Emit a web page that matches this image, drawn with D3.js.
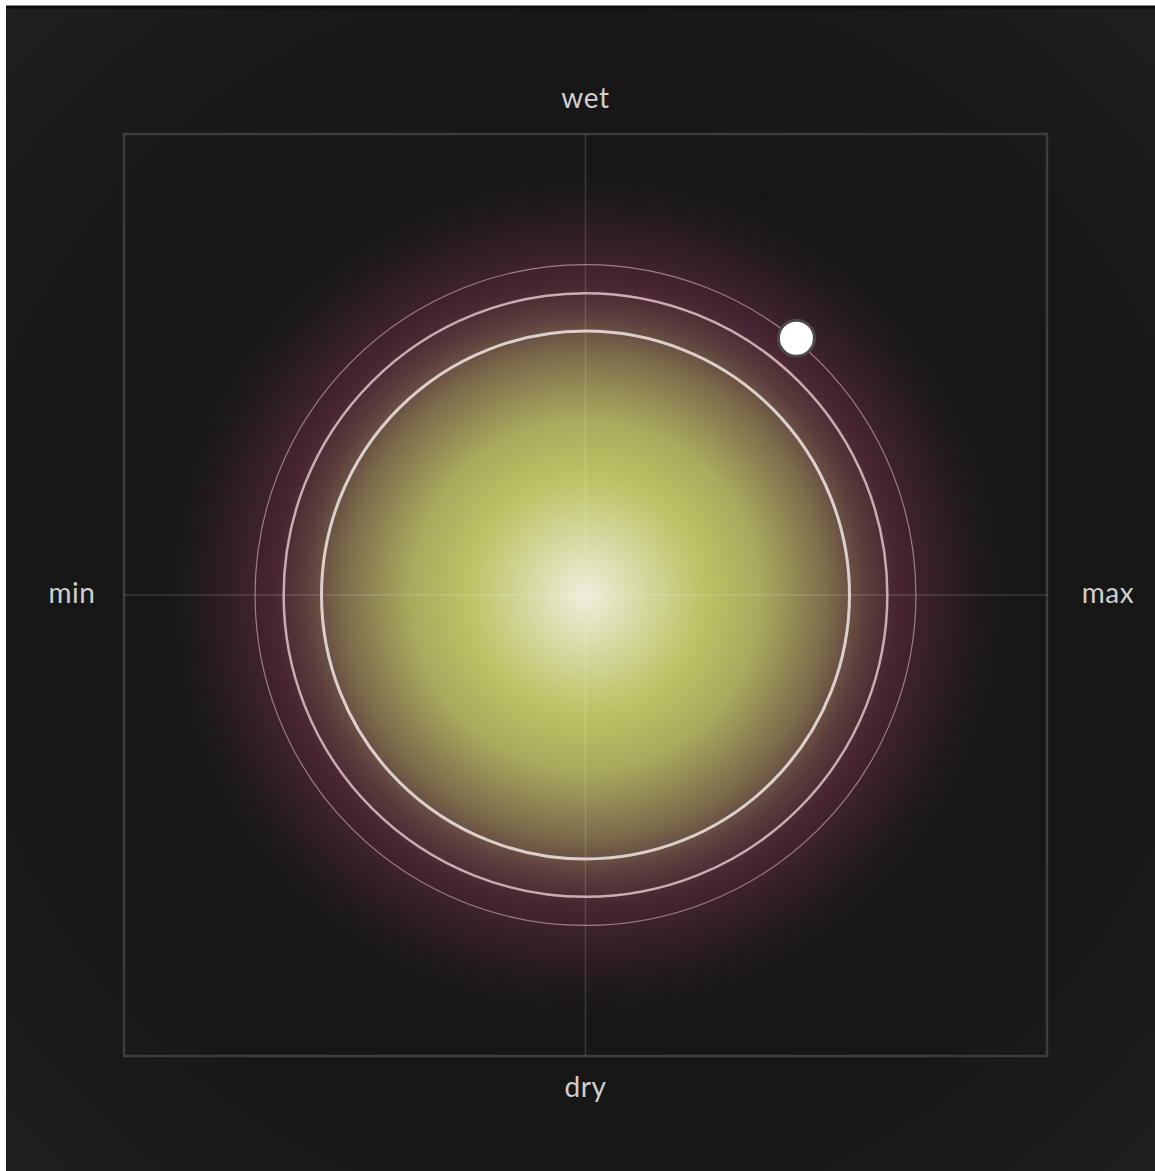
<!DOCTYPE html>
<html>
<head>
<meta charset="utf-8">
<script src="https://cdn.jsdelivr.net/npm/d3@7"></script>
<style>
  body { margin: 0; background: #ffffff; }
  svg { display: block; }
</style>
</head>
<body>
<div id="chart"></div>
<script>
const width = 1155;
const height = 1171;

// axis labels
const xLabels = ["min", "max"];
const yLabels = ["dry", "wet"];

// ring radii in axis units (-1..1)
const rings = [0.572, 0.654, 0.716];
const ringStroke = [3, 2.5, 1.2];
const ringColor = ["#dccfcc", "#c9adb3", "#9f7d89"];

// current reading
const point = { x: 0.457, y: 0.557 };

// glow colour stops
const glowOffsets = [0, 0.1, 0.27, 0.4, 0.55, 0.64, 0.71, 0.84, 1];
const glowColors = ["#efeedd", "#dcdeae", "#bcc264", "#a8aa5e", "#7d6c4b", "#5b3d3d", "#482532", "#2b1d22", "#181818"];
const glowRadius = 0.95;

const x = d3.scaleLinear().domain([-1, 1]).range([124, 1047]);
const y = d3.scaleLinear().domain([-1, 1]).range([1056, 134]);
const r = d3.scaleLinear().domain([0, 1]).range([0, (1047 - 124) / 2]);

const svg = d3.select('#chart').append('svg')
    .attr('width', width)
    .attr('height', height);

const defs = svg.append('defs');

const bg = defs.append('radialGradient')
    .attr('id', 'bg')
    .attr('gradientUnits', 'userSpaceOnUse')
    .attr('cx', x(0)).attr('cy', y(0)).attr('r', 820);
bg.append('stop').attr('offset', 0).attr('stop-color', '#151515');
bg.append('stop').attr('offset', 0.7).attr('stop-color', '#171717');
bg.append('stop').attr('offset', 1).attr('stop-color', '#1f1f1f');

const glow = defs.append('radialGradient')
    .attr('id', 'glow')
    .attr('gradientUnits', 'userSpaceOnUse')
    .attr('cx', x(0)).attr('cy', y(0)).attr('r', r(glowRadius));
glow.selectAll('stop')
    .data(glowOffsets)
    .enter().append('stop')
    .attr('offset', d => d)
    .attr('stop-color', (d, i) => glowColors[i])
    .attr('stop-opacity', (d, i) => i === glowOffsets.length - 1 ? 0 : 1);

// panel
svg.append('rect')
    .attr('x', 6).attr('y', 6)
    .attr('width', width - 6).attr('height', height - 6)
    .style('fill', 'url(#bg)');
svg.append('line')
    .attr('x1', 6).attr('x2', width)
    .attr('y1', 7).attr('y2', 7)
    .style('stroke', '#0b0b0b')
    .style('stroke-width', 3);

// glow
svg.append('circle')
    .attr('cx', x(0)).attr('cy', y(0))
    .attr('r', r(glowRadius))
    .style('fill', 'url(#glow)');

// frame
svg.append('rect')
    .attr('x', x(-1)).attr('y', y(1))
    .attr('width', x(1) - x(-1))
    .attr('height', y(-1) - y(1))
    .style('fill', 'none')
    .style('stroke', '#3d3d3d')
    .style('stroke-width', 2.5);

// crosshair
svg.append('line')
    .attr('x1', x(0)).attr('x2', x(0))
    .attr('y1', y(1)).attr('y2', y(-1))
    .style('stroke', 'rgba(255,255,255,0.15)')
    .style('stroke-width', 1.5);
svg.append('line')
    .attr('x1', x(-1)).attr('x2', x(1))
    .attr('y1', y(0)).attr('y2', y(0))
    .style('stroke', 'rgba(255,255,255,0.15)')
    .style('stroke-width', 1.5);

// rings
svg.selectAll('.ring')
    .data(rings)
    .enter().append('circle')
    .attr('class', 'ring')
    .attr('cx', x(0)).attr('cy', y(0))
    .attr('r', d => r(d))
    .style('fill', 'none')
    .style('stroke', (d, i) => ringColor[i])
    .style('stroke-width', (d, i) => ringStroke[i]);

// point
svg.append('circle')
    .attr('cx', x(point.x)).attr('cy', y(point.y))
    .attr('r', 18)
    .style('fill', '#ffffff')
    .style('stroke', '#4a4a4a')
    .style('stroke-width', 3);

// labels
const labelStyle = sel => sel
    .style('font-family', 'Lato, "Noto Sans", sans-serif')
    .style('font-size', '28px')
    .style('letter-spacing', '0.6px')
    .style('fill', '#cfcfcf')
    .style('text-anchor', 'middle')
    .attr('dy', '.35em');

svg.append('text').attr('x', x(0)).attr('y', y(1) - 36).text(yLabels[1]).call(labelStyle);
svg.append('text').attr('x', x(0)).attr('y', y(-1) + 31).text(yLabels[0]).call(labelStyle);
svg.append('text').attr('x', x(-1) - 52).attr('y', y(0) - 2).text(xLabels[0]).call(labelStyle);
svg.append('text').attr('x', x(1) + 61).attr('y', y(0) - 2).text(xLabels[1]).call(labelStyle);
</script>
</body>
</html>
